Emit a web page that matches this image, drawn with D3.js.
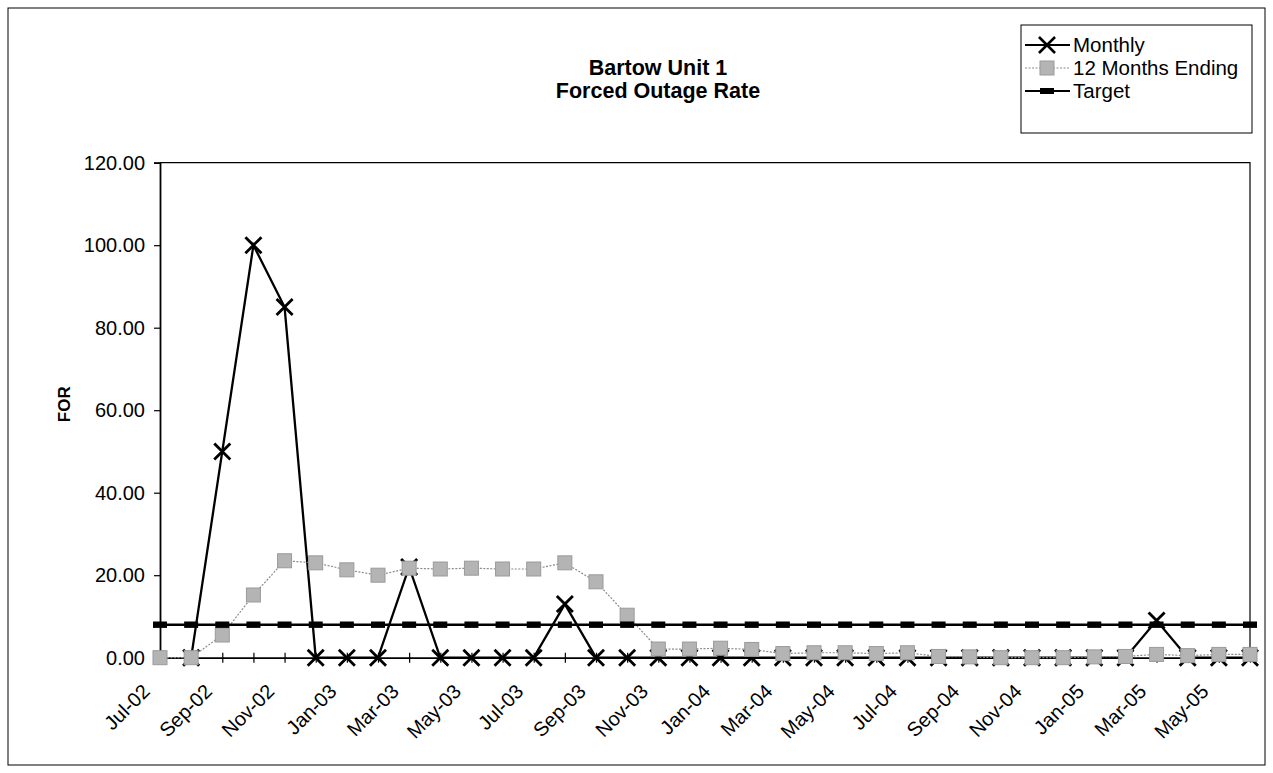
<!DOCTYPE html>
<html>
<head>
<meta charset="utf-8">
<script src="https://cdn.jsdelivr.net/npm/d3@7"></script>
<style>
  html, body { margin: 0; padding: 0; background: #fff; }
  svg { display: block; font-family: "Liberation Sans", Arial, sans-serif; }
</style>
</head>
<body>
<svg id="chart" width="1273" height="773"></svg>
<script>
// ---- data ----
const months = ["Jul-02","Aug-02","Sep-02","Oct-02","Nov-02","Dec-02",
  "Jan-03","Feb-03","Mar-03","Apr-03","May-03","Jun-03","Jul-03","Aug-03","Sep-03","Oct-03","Nov-03","Dec-03",
  "Jan-04","Feb-04","Mar-04","Apr-04","May-04","Jun-04","Jul-04","Aug-04","Sep-04","Oct-04","Nov-04","Dec-04",
  "Jan-05","Feb-05","Mar-05","Apr-05","May-05","Jun-05"];
const monthly = [null,0,50,100,85,0,
  0,0,22,0,0,0,0,13,0,0,0,0,
  0,0,0,0,0,0,0,0,0,0,0,0,
  0,0,9,0,0,0];
const twelveMonths = [0,0,5.5,15.2,23.5,23,
  21.3,20,21.7,21.5,21.7,21.5,21.5,23,18.4,10.3,2.1,2.1,
  2.3,2.0,1.0,1.2,1.2,1.0,1.2,0.3,0.2,0,0,0,
  0.2,0.3,0.8,0.5,0.8,0.8];
const target = months.map(() => 8);
const yTicks = [0,20,40,60,80,100,120];
const xLabelMonths = months.filter((m, i) => i % 2 === 0);
const seriesNames = ["Monthly","12 Months Ending","Target"];

// ---- layout ----
const svg = d3.select("#chart");
const plotLeft = 160, plotRight = 1250, plotTop = 162.7, plotBottom = 657.7;

const x = d3.scalePoint().domain(months).range([plotLeft, plotRight]);
const y = d3.scaleLinear().domain([0, 120]).range([plotBottom, plotTop]);

// chart frame
svg.append("rect").attr("x", 8).attr("y", 8).attr("width", 1257).attr("height", 757)
  .attr("fill", "none").attr("stroke", "#000").attr("stroke-width", 1);

// plot border (top and right)
svg.append("path")
  .attr("d", `M${plotLeft},${plotTop}H${plotRight}V${plotBottom}`)
  .attr("fill", "none").attr("stroke", "#000").attr("stroke-width", 1.2);

// y axis
const yAxis = d3.axisLeft(y).tickValues(yTicks).tickFormat(d3.format(".2f")).tickSize(6).tickPadding(9);
const gy = svg.append("g").attr("transform", `translate(${plotLeft},0)`).call(yAxis);
gy.select(".domain").attr("stroke", "#000").attr("stroke-width", 1.8);
gy.selectAll(".tick line").attr("stroke", "#000").attr("stroke-width", 1.2);
gy.selectAll(".tick text").attr("font-size", 20).attr("fill", "#000")
  .attr("font-family", "Liberation Sans, Arial, sans-serif");

// x axis (ticks crossing)
const xAxis = d3.axisBottom(x).tickSizeInner(5).tickSizeOuter(0).tickFormat("");
const gx = svg.append("g").attr("transform", `translate(0,${plotBottom})`).call(xAxis);
gx.select(".domain").attr("stroke", "#000").attr("stroke-width", 1.8);
gx.selectAll(".tick line").attr("y1", -5).attr("y2", 5).attr("stroke", "#000").attr("stroke-width", 1.2);

// x labels, rotated
svg.append("g").selectAll("text").data(xLabelMonths).join("text")
  .attr("transform", d => `translate(${x(d) - 9},${plotBottom + 35}) rotate(-45)`)
  .attr("text-anchor", "end")
  .attr("font-size", 20)
  .attr("fill", "#000")
  .text(d => d);

// y axis title
svg.append("text")
  .attr("transform", `translate(70,${(plotTop + plotBottom) / 2 - 6}) rotate(-90)`)
  .attr("text-anchor", "middle")
  .attr("font-size", 17).attr("font-weight", "bold")
  .text("FOR");

// title
const title = svg.append("text").attr("text-anchor", "middle").attr("font-size", 21.5).attr("font-weight", "bold");
title.append("tspan").attr("x", 658).attr("y", 75).text("Bartow Unit 1");
title.append("tspan").attr("x", 658).attr("y", 98).text("Forced Outage Rate");

// ---- series ----
const xSym = d3.symbol().type(d3.symbolX).size(170);

// Monthly
const lineMonthly = d3.line().defined(d => d[1] !== null).x(d => x(d[0])).y(d => y(d[1]));
const monthlyData = months.map((m, i) => [m, monthly[i]]);
svg.append("path").datum(monthlyData).attr("d", lineMonthly)
  .attr("fill", "none").attr("stroke", "#000").attr("stroke-width", 2.3);
svg.append("g").selectAll("path").data(monthlyData.filter(d => d[1] !== null)).join("path")
  .attr("transform", d => `translate(${x(d[0])},${y(d[1])})`)
  .attr("d", xSym).attr("fill", "none").attr("stroke", "#000").attr("stroke-width", 2.8);

// 12 Months Ending
const twelveData = months.map((m, i) => [m, twelveMonths[i]]);
const line12 = d3.line().x(d => x(d[0])).y(d => y(d[1]));
svg.append("path").datum(twelveData).attr("d", line12)
  .attr("fill", "none").attr("stroke", "#8a8a8a").attr("stroke-width", 1.2).attr("stroke-dasharray", "2,1.5");
svg.append("g").selectAll("rect").data(twelveData).join("rect")
  .attr("x", d => x(d[0]) - 7).attr("y", d => y(d[1]) - 7)
  .attr("width", 14).attr("height", 14)
  .attr("fill", "#b4b4b4").attr("stroke", "#9a9a9a").attr("stroke-width", 1);

// Target
const targetData = months.map((m, i) => [m, target[i]]);
svg.append("path").datum(targetData).attr("d", line12)
  .attr("fill", "none").attr("stroke", "#000").attr("stroke-width", 2.6);
svg.append("g").selectAll("rect").data(targetData).join("rect")
  .attr("x", d => x(d[0]) - 7).attr("y", d => y(d[1]) - 3.2)
  .attr("width", 14).attr("height", 6.4).attr("fill", "#000");

// ---- legend ----
const lg = svg.append("g");
lg.append("rect").attr("x", 1021).attr("y", 25).attr("width", 231).attr("height", 108)
  .attr("fill", "#fff").attr("stroke", "#000").attr("stroke-width", 1);
const ly = d3.scalePoint().domain(seriesNames).range([45, 91]);
seriesNames.forEach(name => {
  const yy = ly(name);
  lg.append("text").attr("x", 1073).attr("y", yy).attr("dy", "0.35em")
    .attr("font-size", 20.5).attr("fill", "#000").text(name);
});
// Monthly legend sample
lg.append("line").attr("x1", 1025).attr("x2", 1070).attr("y1", ly("Monthly")).attr("y2", ly("Monthly"))
  .attr("stroke", "#000").attr("stroke-width", 2);
lg.append("path").attr("transform", `translate(1047,${ly("Monthly")})`).attr("d", xSym)
  .attr("fill", "none").attr("stroke", "#000").attr("stroke-width", 2.6);
// 12 months sample
lg.append("line").attr("x1", 1025).attr("x2", 1070).attr("y1", ly("12 Months Ending")).attr("y2", ly("12 Months Ending"))
  .attr("stroke", "#8a8a8a").attr("stroke-width", 1.2).attr("stroke-dasharray", "2,1.5");
lg.append("rect").attr("x", 1040).attr("y", ly("12 Months Ending") - 7).attr("width", 14).attr("height", 14)
  .attr("fill", "#b4b4b4").attr("stroke", "#9a9a9a");
// Target sample
lg.append("line").attr("x1", 1025).attr("x2", 1070).attr("y1", ly("Target")).attr("y2", ly("Target"))
  .attr("stroke", "#000").attr("stroke-width", 2.2);
lg.append("rect").attr("x", 1040).attr("y", ly("Target") - 3).attr("width", 14).attr("height", 6).attr("fill", "#000");
</script>
</body>
</html>
